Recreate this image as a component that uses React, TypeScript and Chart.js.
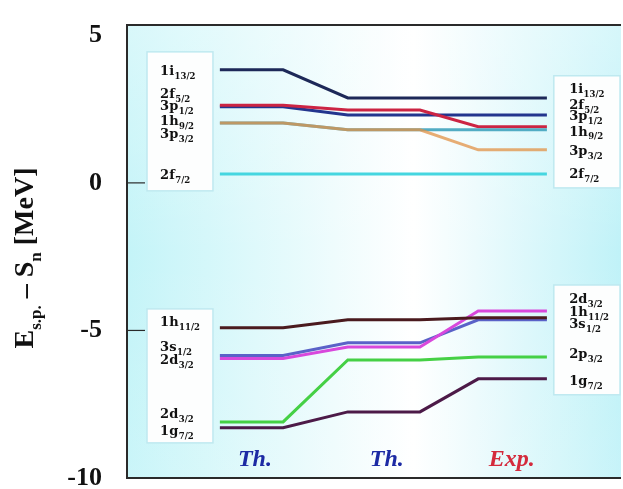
import React, { useEffect, useRef } from "react";
import { Chart, registerables } from "chart.js";

Chart.register(...registerables);

// ---- Data (MeV) ----
const columnTitles = ["Th.", "Th.", "Exp."];
const yTicks = [5, 0, -5, -10];

const level_1i13_2 = [3.83, 2.88, 2.88];
const level_2f5_2 = [2.58, 2.30, 2.30];
const level_3p1_2 = [2.63, 2.47, 1.90];
const level_1h9_2 = [2.03, 1.80, 1.80];
const level_3p3_2 = [2.03, 1.80, 1.12];
const level_2f7_2 = [0.30, 0.30, 0.30];
const level_1h11_2 = [-4.91, -4.64, -4.57];
const level_3s1_2 = [-5.85, -5.42, -4.64];
const level_2d3_2 = [-5.95, -5.56, -4.34];
const level_2p3_2 = [-8.10, -6.00, -5.90];
const level_1g7_2 = [-8.30, -7.76, -6.64];

// label texts [main, subscript]
const leftTopLabels = [["1i", "13/2"], ["2f", "5/2"], ["3p", "1/2"], ["1h", "9/2"], ["3p", "3/2"], ["2f", "7/2"]];
const leftBottomLabels = [["1h", "11/2"], ["3s", "1/2"], ["2d", "3/2"], ["2d", "3/2"], ["1g", "7/2"]];
const rightTopLabels = [["1i", "13/2"], ["2f", "5/2"], ["3p", "1/2"], ["1h", "9/2"], ["3p", "3/2"], ["2f", "7/2"]];
const rightBottomLabels = [["2d", "3/2"], ["1h", "11/2"], ["3s", "1/2"], ["2p", "3/2"], ["1g", "7/2"]];

// ---- Layout (x axis is 0..100 across the plot) ----
const columnSpans = [[18.8, 31.6], [44.7, 59.3], [71.1, 85.0]];
const columnTitleX = [25.9, 52.6, 77.9];
const columnTitleY = -9.39;
const leftTopLabelY = [3.76, 2.98, 2.58, 2.07, 1.63, 0.24];
const leftBottomLabelY = [-4.74, -5.59, -6.03, -7.86, -8.44];
const rightTopLabelY = [3.15, 2.61, 2.24, 1.72, 1.05, 0.27];
const rightBottomLabelY = [-3.96, -4.41, -4.81, -5.83, -6.74];
const boxes = [
  { x0: 4.05, x1: 17.4, y0: 4.44, y1: -0.27 },
  { x0: 4.05, x1: 17.4, y0: -4.27, y1: -8.81 },
  { x0: 86.4, x1: 99.8, y0: 3.63, y1: -0.17 },
  { x0: 86.4, x1: 99.8, y0: -3.46, y1: -7.18 },
];

const series = [
  { name: "1i13/2", values: level_1i13_2, color: "#1d2858" },
  { name: "2f5/2", values: level_2f5_2, color: "#23358e" },
  { name: "3p1/2", values: level_3p1_2, color: "#cc2443" },
  { name: "1h9/2", values: level_1h9_2, color: "#52acc4" },
  { name: "3p3/2", values: level_3p3_2, color: "rgba(226,146,70,0.75)" },
  { name: "2f7/2", values: level_2f7_2, color: "#45d6e0" },
  { name: "3s1/2", values: level_3s1_2, color: "#5a62c8" },
  { name: "2d3/2", values: level_2d3_2, color: "#d848dc" },
  { name: "1h11/2", values: level_1h11_2, color: "#4a1a1e" },
  { name: "2p3/2", values: level_2p3_2, color: "#45d045" },
  { name: "1g7/2", values: level_1g7_2, color: "#4c1a48" },
];

function levelPoints(values: number[]) {
  const pts: { x: number; y: number }[] = [];
  values.forEach((v, i) => {
    pts.push({ x: columnSpans[i][0], y: v });
    pts.push({ x: columnSpans[i][1], y: v });
  });
  return pts;
}

const decorPlugin = {
  id: "decor",
  beforeDatasetsDraw(chart: any) {
    const { ctx, chartArea: a, scales } = chart;
    const xs = scales.x, ys = scales.y;
    ctx.save();
    const g = ctx.createLinearGradient(a.left, 0, a.right, 0);
    g.addColorStop(0, "#c4f4f8");
    g.addColorStop(0.58, "#ffffff");
    g.addColorStop(1, "#c0f2f8");
    ctx.fillStyle = g;
    ctx.fillRect(a.left, a.top, a.right - a.left, a.bottom - a.top);
    const gv = ctx.createLinearGradient(0, a.top, 0, a.bottom);
    gv.addColorStop(0, "rgba(255,255,255,0.35)");
    gv.addColorStop(0.5, "rgba(255,255,255,0)");
    gv.addColorStop(1, "rgba(255,255,255,0.1)");
    ctx.fillStyle = gv;
    ctx.fillRect(a.left, a.top, a.right - a.left, a.bottom - a.top);
    boxes.forEach((b) => {
      const x0 = xs.getPixelForValue(b.x0), x1 = xs.getPixelForValue(b.x1);
      const y0 = ys.getPixelForValue(b.y0), y1 = ys.getPixelForValue(b.y1);
      ctx.fillStyle = "#fdfefe";
      ctx.fillRect(x0, y0, x1 - x0, y1 - y0);
      ctx.strokeStyle = "#bfe9f0";
      ctx.lineWidth = 1.5;
      ctx.strokeRect(x0, y0, x1 - x0, y1 - y0);
    });
    ctx.restore();
  },
  afterDatasetsDraw(chart: any) {
    const { ctx, chartArea: a, scales } = chart;
    const xs = scales.x, ys = scales.y;
    ctx.save();
    // frame
    ctx.strokeStyle = "#2a2a2a";
    ctx.lineWidth = 2;
    ctx.beginPath();
    ctx.moveTo(a.right, a.top);
    ctx.lineTo(a.left, a.top);
    ctx.lineTo(a.left, a.bottom);
    ctx.lineTo(a.right, a.bottom);
    ctx.stroke();
    // ticks & tick labels
    ctx.lineWidth = 1.2;
    ctx.fillStyle = "#111";
    ctx.font = "bold 26px 'Liberation Serif'";
    ctx.textAlign = "right";
    ctx.textBaseline = "middle";
    yTicks.forEach((t) => {
      const y = ys.getPixelForValue(t);
      if (t !== yTicks[0] && t !== yTicks[yTicks.length - 1]) {
        ctx.beginPath();
        ctx.moveTo(a.left, y);
        ctx.lineTo(a.left + 18, y);
        ctx.stroke();
      }
      ctx.fillText(String(t), a.left - 25, y);
    });
    // y title
    ctx.save();
    ctx.translate(33, 258);
    ctx.rotate(-Math.PI / 2);
    const main = "bold 28px 'Liberation Serif'";
    const sub = "bold 17px 'Liberation Serif'";
    const parts: [string, boolean][] = [["E", false], ["s.p.", true], [" \u2013 S", false], ["n", true], [" [MeV]", false]];
    let total = 0;
    parts.forEach(([s, isSub]) => { ctx.font = isSub ? sub : main; total += ctx.measureText(s).width; });
    let x = -total / 2;
    ctx.textAlign = "left";
    ctx.textBaseline = "alphabetic";
    parts.forEach(([s, isSub]) => {
      ctx.font = isSub ? sub : main;
      ctx.fillText(s, x, isSub ? 8 : 0);
      x += ctx.measureText(s).width;
    });
    ctx.restore();
    // level labels
    const drawLabel = (xv: number, yv: number, m: string, s: string) => {
      const px = xs.getPixelForValue(xv), py = ys.getPixelForValue(yv);
      ctx.textAlign = "left";
      ctx.textBaseline = "middle";
      ctx.fillStyle = "#111";
      ctx.font = "bold 13px 'DejaVu Serif'";
      ctx.fillText(m, px, py);
      const w = ctx.measureText(m).width;
      ctx.font = "bold 8.5px 'DejaVu Serif'";
      ctx.fillText(s, px + w + 0.5, py + 5);
    };
    leftTopLabels.forEach((l, i) => drawLabel(6.7, leftTopLabelY[i], l[0], l[1]));
    leftBottomLabels.forEach((l, i) => drawLabel(6.7, leftBottomLabelY[i], l[0], l[1]));
    rightTopLabels.forEach((l, i) => drawLabel(89.5, rightTopLabelY[i], l[0], l[1]));
    rightBottomLabels.forEach((l, i) => drawLabel(89.5, rightBottomLabelY[i], l[0], l[1]));
    // column titles
    ctx.font = "italic bold 24px 'Liberation Serif'";
    ctx.textAlign = "center";
    ctx.textBaseline = "middle";
    columnTitles.forEach((t, i) => {
      ctx.fillStyle = t.startsWith("Exp") ? "#d42a3c" : "#1c2aa4";
      ctx.fillText(t, xs.getPixelForValue(columnTitleX[i]), ys.getPixelForValue(columnTitleY));
    });
    ctx.restore();
  },
};

export default function App() {
  const ref = useRef<HTMLCanvasElement | null>(null);
  useEffect(() => {
    if (!ref.current) return;
    const chart = new Chart(ref.current, {
      type: "line",
      data: {
        datasets: series.map((s, i) => ({
          label: s.name,
          data: levelPoints(s.values),
          borderColor: s.color,
          backgroundColor: s.color,
          borderWidth: 3,
          pointRadius: 0,
          tension: 0,
          fill: false,
          order: series.length - i,
        })),
      },
      options: {
        responsive: false,
        animation: false,
        layout: { padding: { left: 127, top: 25, right: 2, bottom: 11 } },
        plugins: { legend: { display: false }, tooltip: { enabled: false } },
        scales: {
          x: { type: "linear", min: 0, max: 100, display: false },
          y: { type: "linear", min: -10, max: 5.35, display: false },
        },
      },
      plugins: [decorPlugin],
    });
    return () => chart.destroy();
  }, []);
  return (
    <div style={{ position: "absolute", left: 0, top: 0, width: 623, height: 489, background: "#fff" }}>
      <canvas ref={ref} width={623} height={489} style={{ display: "block" }} />
    </div>
  );
}
